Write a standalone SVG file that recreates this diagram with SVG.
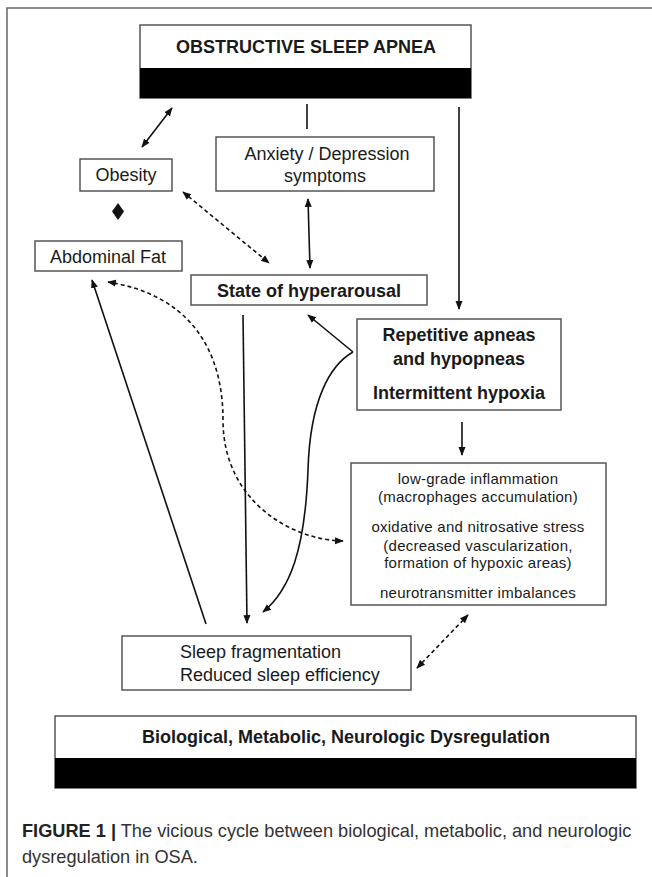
<svg xmlns="http://www.w3.org/2000/svg" width="652" height="877" viewBox="0 0 652 877">
<style>
.box{fill:#fff;stroke:#555;stroke-width:1.5}
.bar{fill:#000}
.t{font-family:"Liberation Sans",Arial,sans-serif;font-size:18px;fill:#1a1a1a;text-anchor:middle}
.b{font-weight:bold}
.s{font-size:15px;letter-spacing:0.25px}
.ln{fill:none;stroke:#111;stroke-width:1.6}
.d{stroke-dasharray:4,3}
.cap{font-family:"Liberation Sans",Arial,sans-serif;font-size:18.2px;fill:#333}
</style>
<defs>
<marker id="ah" viewBox="0 0 10 10" refX="9" refY="5" markerWidth="5.5" markerHeight="5.5" orient="auto-start-reverse" markerUnits="strokeWidth">
<path d="M0,1 L10,5 L0,9 z" fill="#111"/>
</marker>
</defs>
<rect x="0" y="0" width="652" height="877" fill="#fff"/>
<path d="M7,877 V8 H652" fill="none" stroke="#666" stroke-width="1.5"/>

<g id="osa">
<rect class="box" x="140" y="25" width="331" height="73"/>
<rect class="bar" x="140" y="68" width="331" height="30"/>
<text class="t b" x="306" y="53">OBSTRUCTIVE SLEEP APNEA</text>
</g>
<g id="obesity">
<rect class="box" x="80" y="159" width="92" height="32"/>
<text class="t" x="126" y="181">Obesity</text>
</g>
<g id="anxiety">
<rect class="box" x="216" y="137" width="218" height="54"/>
<text class="t" x="327" y="160">Anxiety / Depression</text>
<text class="t" x="325" y="182">symptoms</text>
</g>
<g id="abdominal">
<rect class="box" x="35" y="241" width="147" height="30"/>
<text class="t" x="108" y="263">Abdominal Fat</text>
</g>
<g id="hyperarousal">
<rect class="box" x="191" y="275" width="236" height="30"/>
<text class="t b" x="309" y="297">State of hyperarousal</text>
</g>
<g id="repetitive">
<rect class="box" x="357" y="319" width="204" height="91"/>
<text class="t b" x="459" y="341">Repetitive apneas</text>
<text class="t b" x="459" y="365">and hypopneas</text>
<text class="t b" x="459" y="399">Intermittent hypoxia</text>
</g>
<g id="inflammation">
<rect class="box" x="351" y="463" width="255" height="142"/>
<text class="t s" x="478" y="484">low-grade inflammation</text>
<text class="t s" x="478" y="502">(macrophages accumulation)</text>
<text class="t s" x="478" y="532">oxidative and nitrosative stress</text>
<text class="t s" x="478" y="551">(decreased vascularization,</text>
<text class="t s" x="478" y="568">formation of hypoxic areas)</text>
<text class="t s" x="478" y="598">neurotransmitter imbalances</text>
</g>
<g id="sleep">
<rect class="box" x="122" y="636" width="289" height="54"/>
<text class="t" x="180" y="658" style="text-anchor:start">Sleep fragmentation</text>
<text class="t" x="180" y="681" style="text-anchor:start">Reduced sleep efficiency</text>
</g>
<g id="dysregulation">
<rect class="box" x="55" y="716" width="581" height="72"/>
<rect class="bar" x="55" y="758" width="581" height="30"/>
<text class="t b" x="346" y="743">Biological, Metabolic, Neurologic Dysregulation</text>
</g>

<g id="connectors">
<line class="ln" x1="307" y1="104" x2="307" y2="129"/>
<line class="ln" x1="172" y1="108" x2="142" y2="147" marker-start="url(#ah)" marker-end="url(#ah)"/>
<path d="M118,203 L124,211.5 L118,220 L112,211.5 z" fill="#111"/>
<line class="ln d" x1="183" y1="192" x2="269" y2="263" marker-start="url(#ah)" marker-end="url(#ah)"/>
<line class="ln" x1="308" y1="199" x2="310" y2="268" marker-start="url(#ah)" marker-end="url(#ah)"/>
<line class="ln" x1="459" y1="107" x2="459" y2="309" marker-end="url(#ah)"/>
<line class="ln" x1="353" y1="352" x2="308" y2="315" marker-end="url(#ah)"/>
<path class="ln" d="M353,352 C330,365 310,400 308,470 C305,550 290,590 263,612" marker-end="url(#ah)"/>
<line class="ln" x1="243" y1="315" x2="247" y2="623" marker-end="url(#ah)"/>
<line class="ln" x1="206" y1="624" x2="92" y2="280" marker-end="url(#ah)"/>
<path class="ln d" d="M343,541 C290,540 223,500 223,420 C223,350 190,295 108,282" marker-start="url(#ah)" marker-end="url(#ah)"/>
<line class="ln" x1="462" y1="422" x2="462" y2="455" marker-end="url(#ah)"/>
<line class="ln d" x1="417" y1="668" x2="468" y2="615" marker-start="url(#ah)" marker-end="url(#ah)"/>
</g>

<text class="cap" x="22" y="837"><tspan font-weight="bold" fill="#222">FIGURE 1 |</tspan> The vicious cycle between biological, metabolic, and neurologic</text>
<text class="cap" x="22" y="863">dysregulation in OSA.</text>
</svg>
